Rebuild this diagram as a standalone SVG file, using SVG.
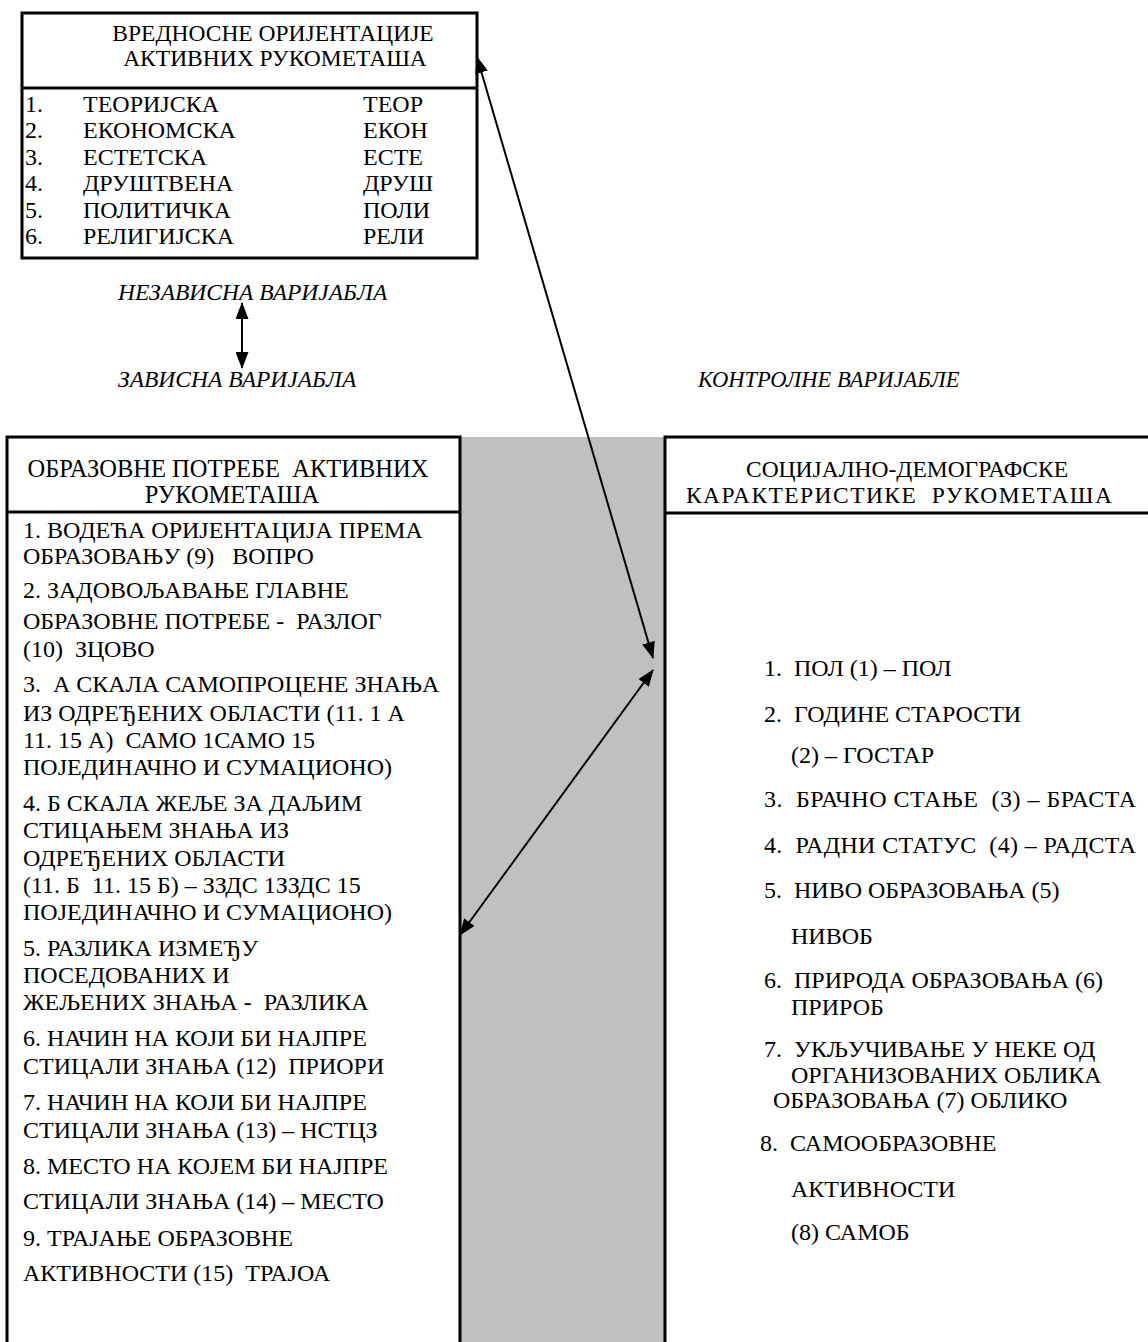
<svg xmlns="http://www.w3.org/2000/svg" width="1148" height="1342" viewBox="0 0 1148 1342" xml:space="preserve">
<style>
text{font-family:"Liberation Serif","Times New Roman",serif;fill:#000;white-space:pre}
.h{font-size:23.5px}
.t{font-size:24px}
.l{font-size:24px}
.lh{font-size:24.5px}
.r{font-size:24px}
.rh{font-size:23.5px}
.lab{font-size:23.5px;font-style:italic}
.c{text-anchor:middle}
.box{fill:#fff;stroke:#000;stroke-width:3}
.div{stroke:#000;stroke-width:3}
.con{stroke:#000;stroke-width:2;fill:none}
</style>
<defs>
<marker id="ah" markerUnits="userSpaceOnUse" markerWidth="17" markerHeight="13" refX="16" refY="6.5" orient="auto-start-reverse">
<path d="M0,0 L17,6.5 L0,13 z" fill="#000"/>
</marker>
</defs>
<rect x="0" y="0" width="1148" height="1342" fill="#fff"/>
<rect id="gap" x="460" y="437" width="205" height="905" fill="#c0c0c0"/>
<g id="values">
<rect class="box" x="22" y="13" width="455" height="245"/>
<line class="div" x1="22" y1="88" x2="477" y2="88"/>
<text class="h c" x="273" y="41">ВРЕДНОСНЕ ОРИЈЕНТАЦИЈЕ</text>
<text class="h c" x="275" y="66">АКТИВНИХ РУКОМЕТАША</text>
<text class="t" x="25" y="112">1.</text><text class="t" x="83" y="112">ТЕОРИЈСКА</text><text class="t" x="363" y="112">ТЕОР</text>
<text class="t" x="25" y="138">2.</text><text class="t" x="83" y="138">ЕКОНОМСКА</text><text class="t" x="363" y="138">ЕКОН</text>
<text class="t" x="25" y="165">3.</text><text class="t" x="83" y="165">ЕСТЕТСКА</text><text class="t" x="363" y="165">ЕСТЕ</text>
<text class="t" x="25" y="191">4.</text><text class="t" x="83" y="191">ДРУШТВЕНА</text><text class="t" x="363" y="191">ДРУШ</text>
<text class="t" x="25" y="218">5.</text><text class="t" x="83" y="218">ПОЛИТИЧКА</text><text class="t" x="363" y="218">ПОЛИ</text>
<text class="t" x="25" y="244">6.</text><text class="t" x="83" y="244">РЕЛИГИЈСКА</text><text class="t" x="363" y="244">РЕЛИ</text>
</g>
<g id="labels">
<text class="lab" x="118" y="300">НЕЗАВИСНА ВАРИЈАБЛА</text>
<text class="lab" x="118" y="387">ЗАВИСНА ВАРИЈАБЛА</text>
<text class="lab" x="698" y="387" style="font-size:22.5px">КОНТРОЛНЕ ВАРИЈАБЛЕ</text>
</g>
<g id="needs">
<rect class="box" x="7" y="437" width="453" height="920"/>
<line class="div" x1="7" y1="512" x2="460" y2="512"/>
<text class="lh c" x="228" y="477">ОБРАЗОВНЕ ПОТРЕБЕ  АКТИВНИХ</text>
<text class="lh c" x="232" y="503">РУКОМЕТАША</text>
<text class="l" x="23" y="538">1. ВОДЕЋА ОРИЈЕНТАЦИЈА ПРЕМА</text>
<text class="l" x="23" y="564">ОБРАЗОВАЊУ (9)   ВОПРО</text>
<text class="l" x="23" y="598">2. ЗАДОВОЉАВАЊЕ ГЛАВНЕ</text>
<text class="l" x="23" y="629">ОБРАЗОВНЕ ПОТРЕБЕ -  РАЗЛОГ</text>
<text class="l" x="23" y="657">(10)  ЗЦОВО</text>
<text class="l" x="23" y="692">3.  А СКАЛА САМОПРОЦЕНЕ ЗНАЊА</text>
<text class="l" x="23" y="721">ИЗ ОДРЕЂЕНИХ ОБЛАСТИ (11. 1 А</text>
<text class="l" x="23" y="748">11. 15 А)  САМО 1САМО 15</text>
<text class="l" x="23" y="775">ПОЈЕДИНАЧНО И СУМАЦИОНО)</text>
<text class="l" x="23" y="811">4. Б СКАЛА ЖЕЉЕ ЗА ДАЉИМ</text>
<text class="l" x="23" y="838">СТИЦАЊЕМ ЗНАЊА ИЗ</text>
<text class="l" x="23" y="866">ОДРЕЂЕНИХ ОБЛАСТИ</text>
<text class="l" x="23" y="893">(11. Б  11. 15 Б) – ЗЗДС 1ЗЗДС 15</text>
<text class="l" x="23" y="920">ПОЈЕДИНАЧНО И СУМАЦИОНО)</text>
<text class="l" x="23" y="956">5. РАЗЛИКА ИЗМЕЂУ</text>
<text class="l" x="23" y="983">ПОСЕДОВАНИХ И</text>
<text class="l" x="23" y="1010">ЖЕЉЕНИХ ЗНАЊА -  РАЗЛИКА</text>
<text class="l" x="23" y="1046">6. НАЧИН НА КОЈИ БИ НАЈПРЕ</text>
<text class="l" x="23" y="1074">СТИЦАЛИ ЗНАЊА (12)  ПРИОРИ</text>
<text class="l" x="23" y="1110">7. НАЧИН НА КОЈИ БИ НАЈПРЕ</text>
<text class="l" x="23" y="1138">СТИЦАЛИ ЗНАЊА (13) – НСТЦЗ</text>
<text class="l" x="23" y="1174">8. МЕСТО НА КОЈЕМ БИ НАЈПРЕ</text>
<text class="l" x="23" y="1209">СТИЦАЛИ ЗНАЊА (14) – МЕСТО</text>
<text class="l" x="23" y="1246">9. ТРАЈАЊЕ ОБРАЗОВНЕ</text>
<text class="l" x="23" y="1281">АКТИВНОСТИ (15)  ТРАЈОА</text>
</g>
<g id="demographics">
<rect class="box" x="665" y="437" width="500" height="920"/>
<line class="div" x1="665" y1="513" x2="1148" y2="513"/>
<text class="rh c" x="907" y="477">СОЦИЈАЛНО-ДЕМОГРАФСКЕ</text>
<text class="rh" x="686" y="503" textLength="426" lengthAdjust="spacing">КАРАКТЕРИСТИКЕ  РУКОМЕТАША</text>
<text class="r" x="764" y="676">1.  ПОЛ (1) – ПОЛ</text>
<text class="r" x="764" y="722">2.  ГОДИНЕ СТАРОСТИ</text>
<text class="r" x="791" y="763">(2) – ГОСТАР</text>
<text class="r" x="764" y="807" textLength="372" lengthAdjust="spacing">3.  БРАЧНО СТАЊЕ  (3) – БРАСТА</text>
<text class="r" x="764" y="853" textLength="372" lengthAdjust="spacing">4.  РАДНИ СТАТУС  (4) – РАДСТА</text>
<text class="r" x="764" y="898">5.  НИВО ОБРАЗОВАЊА (5)</text>
<text class="r" x="791" y="944">НИВОБ</text>
<text class="r" x="764" y="988">6.  ПРИРОДА ОБРАЗОВАЊА (6)</text>
<text class="r" x="791" y="1015">ПРИРОБ</text>
<text class="r" x="764" y="1057">7.  УКЉУЧИВАЊЕ У НЕКЕ ОД</text>
<text class="r" x="791" y="1083">ОРГАНИЗОВАНИХ ОБЛИКА</text>
<text class="r" x="773" y="1108">ОБРАЗОВАЊА (7) ОБЛИКО</text>
<text class="r" x="760" y="1151">8.  САМООБРАЗОВНЕ</text>
<text class="r" x="791" y="1197">АКТИВНОСТИ</text>
<text class="r" x="791" y="1240">(8) САМОБ</text>
</g>
<g id="connectors">
<line class="con" x1="242" y1="303" x2="242" y2="368" marker-start="url(#ah)" marker-end="url(#ah)"/>
<line class="con" x1="477" y1="57" x2="653" y2="658" marker-start="url(#ah)" marker-end="url(#ah)"/>
<line class="con" x1="653" y1="670" x2="460" y2="935" marker-start="url(#ah)" marker-end="url(#ah)"/>
</g>
</svg>
